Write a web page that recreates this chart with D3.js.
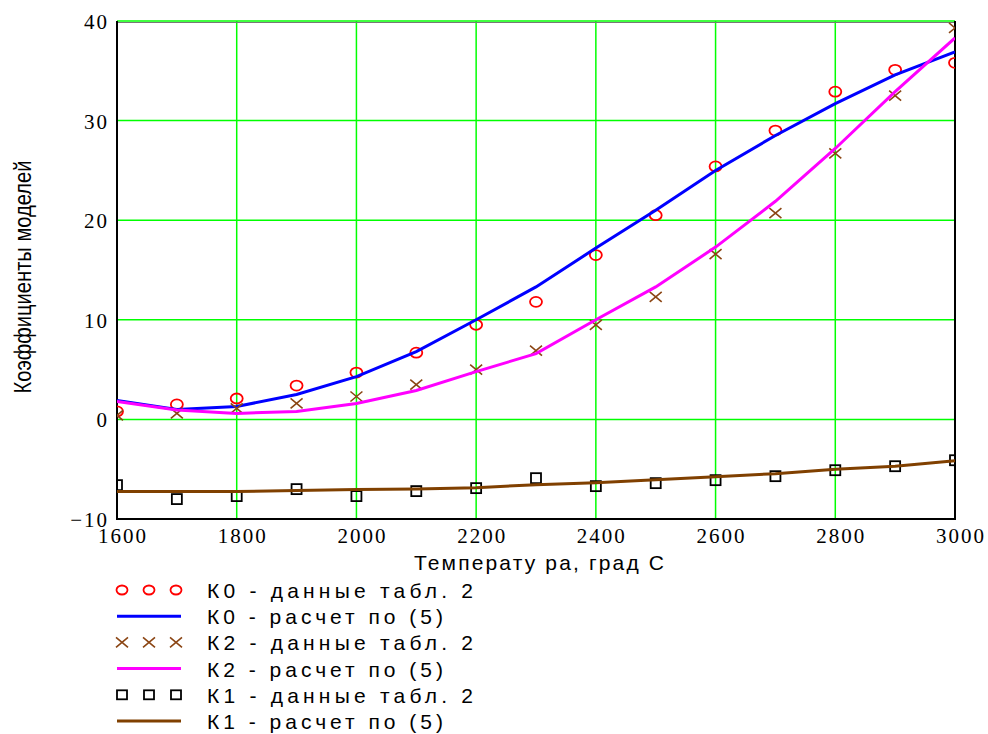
<!DOCTYPE html>
<html>
<head>
<meta charset="utf-8">
<script src="https://cdn.jsdelivr.net/npm/d3@7"></script>
<style>
  body { margin: 0; background: #fff; }
  svg { display: block; }
  .tick-label { font-family: "Liberation Serif", "Times New Roman", serif; font-size: 21px; letter-spacing: 2px; fill: #000; }
  .title { font-family: "Liberation Sans", Arial, sans-serif; fill: #000; }
</style>
</head>
<body>
<div id="chart"></div>
<script>
// temperature grid, grad C
const temps = [1600, 1700, 1800, 1900, 2000, 2100, 2200, 2300, 2400, 2500, 2600, 2700, 2800, 2900, 3000];

// table 2 data
const k0Data = [0.8, 1.5, 2.1, 3.4, 4.7, 6.7, 9.5, 11.8, 16.5, 20.5, 25.4, 29.0, 32.9, 35.1, 35.8];
const k2Data = [0.4, 0.6, 1.1, 1.6, 2.3, 3.5, 5.0, 6.9, 9.5, 12.3, 16.6, 20.7, 26.7, 32.5, 39.3];
const k1Data = [-6.6, -8.0, -7.7, -7.0, -7.7, -7.2, -6.9, -5.9, -6.7, -6.4, -6.1, -5.7, -5.1, -4.7, -4.1];

// model (5)
const k0Calc = [1.9, 1.0, 1.3, 2.5, 4.3, 6.8, 10.0, 13.3, 17.2, 21.0, 25.0, 28.5, 31.7, 34.6, 36.9];
const k2Calc = [1.8, 0.95, 0.6, 0.8, 1.6, 2.9, 4.8, 6.6, 10.0, 13.3, 17.3, 21.9, 27.2, 32.9, 38.3];
const k1Calc = [-7.25, -7.25, -7.25, -7.15, -7.05, -7.0, -6.85, -6.55, -6.35, -6.05, -5.75, -5.45, -5.0, -4.7, -4.15];

const xTicks = [1600, 1800, 2000, 2200, 2400, 2600, 2800, 3000];
const yTicks = [-10, 0, 10, 20, 30, 40];

const legendLabels = [
  "К0 - данные табл. 2",
  "К0 - расчет по (5)",
  "К2 - данные табл. 2",
  "К2 - расчет по (5)",
  "К1 - данные табл. 2",
  "К1 - расчет по (5)"
];

const W = 988, H = 734;
const plot = { left: 117, right: 955, top: 21, bottom: 519 };

const svg = d3.select("#chart").append("svg")
  .attr("width", W).attr("height", H);

svg.append("rect").attr("width", W).attr("height", H).attr("fill", "#fff");

const x = d3.scaleLinear().domain([1600, 3000]).range([plot.left, plot.right]);
const y = d3.scaleLinear().domain([-10, 40]).range([plot.bottom, plot.top]);

// grid
const grid = svg.append("g");
grid.selectAll(".vg").data(xTicks.slice(1, -1)).enter().append("line")
  .attr("x1", d => x(d)).attr("x2", d => x(d))
  .attr("y1", plot.top).attr("y2", plot.bottom)
  .attr("stroke", "#00ff00").attr("stroke-width", 1.5);
grid.selectAll(".hg").data(yTicks.slice(1)).enter().append("line")
  .attr("x1", plot.left).attr("x2", plot.right)
  .attr("y1", d => y(d)).attr("y2", d => y(d))
  .attr("stroke", "#00ff00").attr("stroke-width", 1.5);

// frame
svg.append("line").attr("x1", plot.left).attr("x2", plot.right)
  .attr("y1", plot.top + 1.5).attr("y2", plot.top + 1.5)
  .attr("stroke", "#777").attr("stroke-width", 1);
svg.append("path")
  .attr("d", `M${plot.left},${plot.top}V${plot.bottom}H${plot.right}V${plot.top}`)
  .attr("fill", "none").attr("stroke", "#000").attr("stroke-width", 2);

// tick labels
svg.selectAll(".xl").data(xTicks).enter().append("text")
  .attr("class", "tick-label")
  .attr("x", d => x(d) + 6).attr("y", plot.bottom + 24)
  .attr("text-anchor", "middle")
  .text(d => d);
svg.selectAll(".yl").data(yTicks).enter().append("text")
  .attr("class", "tick-label")
  .attr("x", 109).attr("y", d => y(d) + 8)
  .attr("text-anchor", "end")
  .text(d => d < 0 ? "\u2212" + Math.abs(d) : d);

// axis titles
svg.append("text").attr("class", "title")
  .attr("transform", "translate(31,277) rotate(-90)")
  .attr("text-anchor", "middle")
  .attr("font-size", 24)
  .attr("textLength", 233).attr("lengthAdjust", "spacingAndGlyphs")
  .text("Коэффициенты моделей");
svg.append("text").attr("class", "title")
  .attr("x", 414).attr("y", 570)
  .attr("font-size", 21)
  .attr("textLength", 250).attr("lengthAdjust", "spacing")
  .text("Температу ра, град С");

// plot contents
svg.append("clipPath").attr("id", "clip")
  .append("rect").attr("x", plot.left).attr("y", plot.top)
  .attr("width", plot.right - plot.left).attr("height", plot.bottom - plot.top);
const g = svg.append("g").attr("clip-path", "url(#clip)");

const line = d3.line().x(d => x(d[0])).y(d => y(d[1]));
const zip = vals => temps.map((t, i) => [t, vals[i]]);

const RED = "#ff0000", BLUE = "#0000ff", BROWN = "#8b4513", MAGENTA = "#ff00ff", BROWNLINE = "#804000";

function circles(sel, pts) {
  sel.selectAll(null).data(pts).enter().append("ellipse")
    .attr("cx", d => x(d[0])).attr("cy", d => y(d[1]))
    .attr("rx", 6).attr("ry", 5)
    .attr("fill", "none").attr("stroke", RED).attr("stroke-width", 1.8);
}
function crosses(sel, pts) {
  sel.selectAll(null).data(pts).enter().append("path")
    .attr("d", d => { const cx = x(d[0]), cy = y(d[1]);
      return `M${cx - 6},${cy - 5}L${cx + 6},${cy + 5}M${cx - 6},${cy + 5}L${cx + 6},${cy - 5}`; })
    .attr("fill", "none").attr("stroke", BROWN).attr("stroke-width", 1.6);
}
function squares(sel, pts) {
  sel.selectAll(null).data(pts).enter().append("rect")
    .attr("x", d => x(d[0]) - 5).attr("y", d => y(d[1]) - 5)
    .attr("width", 10).attr("height", 10)
    .attr("fill", "none").attr("stroke", "#000").attr("stroke-width", 1.8);
}

circles(g, zip(k0Data));
g.append("path").datum(zip(k0Calc)).attr("d", line)
  .attr("fill", "none").attr("stroke", BLUE).attr("stroke-width", 3);
crosses(g, zip(k2Data));
g.append("path").datum(zip(k2Calc)).attr("d", line)
  .attr("fill", "none").attr("stroke", MAGENTA).attr("stroke-width", 3);
squares(g, zip(k1Data));
g.append("path").datum(zip(k1Calc)).attr("d", line)
  .attr("fill", "none").attr("stroke", BROWNLINE).attr("stroke-width", 3);

// legend
const legend = svg.append("g");
const rowY = i => 590 + i * 26.2;
const symX = [122, 149, 176];
legendLabels.forEach((label, i) => {
  const cy = rowY(i);
  const row = legend.append("g");
  if (i % 2 === 1) {
    row.append("line").attr("x1", 117).attr("x2", 181).attr("y1", cy).attr("y2", cy)
      .attr("stroke", [BLUE, MAGENTA, BROWNLINE][(i - 1) / 2]).attr("stroke-width", 3);
  } else {
    symX.forEach(sx => {
      if (i === 0) row.append("ellipse").attr("cx", sx).attr("cy", cy).attr("rx", 5.5).attr("ry", 4.5)
        .attr("fill", "none").attr("stroke", RED).attr("stroke-width", 1.8);
      if (i === 2) row.append("path")
        .attr("d", `M${sx - 6},${cy - 5}L${sx + 6},${cy + 5}M${sx - 6},${cy + 5}L${sx + 6},${cy - 5}`)
        .attr("stroke", BROWN).attr("stroke-width", 1.6);
      if (i === 4) row.append("rect").attr("x", sx - 5).attr("y", cy - 4.5).attr("width", 10).attr("height", 9)
        .attr("fill", "none").attr("stroke", "#000").attr("stroke-width", 1.8);
    });
  }
  row.append("text").attr("class", "title")
    .attr("x", 207).attr("y", cy + 8)
    .attr("font-size", 21)
    .attr("textLength", label.indexOf("данные") > 0 ? 266 : 236).attr("lengthAdjust", "spacing")
    .text(label);
});
</script>
</body>
</html>
